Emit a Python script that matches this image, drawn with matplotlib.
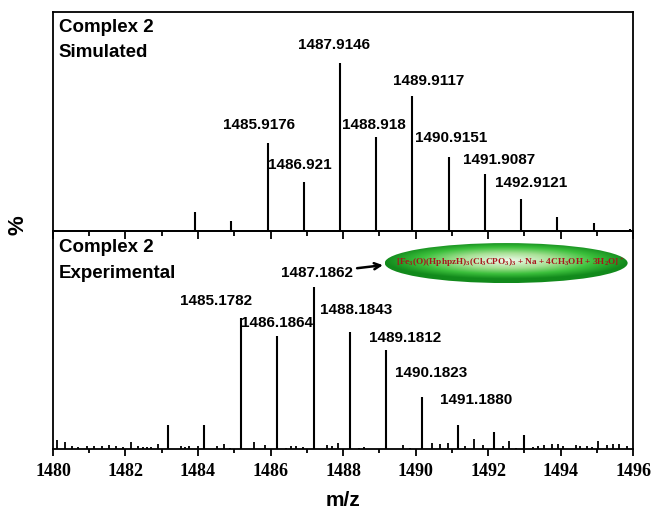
import numpy as np
import matplotlib
matplotlib.use("Agg")
import matplotlib.pyplot as plt
from matplotlib.patches import Ellipse
from matplotlib.colors import LinearSegmentedColormap

plt.rcParams['font.family'] = ['Liberation Sans', 'DejaVu Sans']
plt.rcParams['mathtext.default'] = 'regular'

# --- simulated isotope pattern (relative intensity, %)
sim_mz = [1481.92, 1482.92, 1483.92, 1484.92, 1485.9176, 1486.921, 1487.9146,
          1488.918, 1489.9117, 1490.9151, 1491.9087, 1492.9121, 1493.91, 1494.91, 1495.91]
sim_int = [0.6, 0.6, 11, 6, 52, 29, 100, 56, 80, 44, 34, 19, 8.5, 5, 1]
sim_labels = ['1485.9176', '1486.921', '1487.9146', '1488.918', '1489.9117',
              '1490.9151', '1491.9087', '1492.9121']

# --- experimental spectrum: main peaks
exp_mz = [1483.18, 1484.17, 1485.1782, 1486.1864, 1487.1862, 1488.1843, 1489.1812,
          1490.1823, 1491.18, 1492.17, 1492.99]
exp_int = [15, 15, 81, 70, 100, 72, 61, 32, 15, 10.3, 8.8]
exp_labels = ['1485.1782', '1486.1864', '1487.1862', '1488.1843', '1489.1812',
              '1490.1823', '1491.1880']

# --- experimental spectrum: noise peaks
noise_mz = [1480.10, 1480.33, 1480.53, 1480.70, 1480.93, 1481.14, 1481.34, 1481.55,
            1481.73, 1481.92, 1482.15, 1482.35, 1482.47, 1482.58, 1482.70, 1482.91,
            1483.53, 1483.64, 1483.76, 1484.01, 1484.52, 1484.72, 1484.88,
            1485.55, 1485.85, 1486.43, 1486.57, 1486.70, 1486.89, 1487.55, 1487.69,
            1487.85, 1488.44, 1488.59, 1489.65, 1489.85, 1490.45, 1490.68, 1490.90,
            1491.37, 1491.62, 1491.87, 1492.42, 1492.59, 1492.77, 1493.23, 1493.39,
            1493.55, 1493.76, 1493.94, 1494.06, 1494.42, 1494.54, 1494.72, 1494.86,
            1495.03, 1495.27, 1495.46, 1495.62, 1495.83]
noise_int = [5.3, 4.1, 2.0, 1.2, 1.6, 2.0, 1.6, 2.7, 2.0, 1.2, 4.1, 1.6, 1.2, 1.2, 1.2, 3.0,
             1.6, 1.2, 1.6, 2.0, 2.0, 3.3, 0.6,
             4.1, 2.7, 0.6, 1.6, 2.0, 1.2, 2.7, 2.0,
             3.7, 0.6, 1.2, 2.7, 0.8, 3.7, 3.3, 3.7,
             2.0, 6.4, 2.7, 1.6, 4.7, 0.6, 1.2, 1.6,
             2.7, 3.3, 3.3, 1.6, 2.7, 1.6, 1.6, 1.2,
             4.7, 2.7, 3.3, 3.3, 2.0]

formula = r'[Fe$_3$(O)(HphpzH)$_3$(Cl$_3$CPO$_3$)$_3$ + Na + 4CH$_3$OH + 3H$_2$O]$^+$'

# label positions (x, y in data units)
sim_pos = [(1485.67, 62.9), (1486.80, 39.2), (1487.75, 110.4), (1488.86, 62.9),
           (1490.36, 89.0), (1490.99, 55.2), (1492.30, 42.1), (1493.19, 28.5)]
exp_pos = [(1484.51, 91.4), (1486.19, 77.8), (1487.28, 108.7), (1488.36, 85.8),
           (1489.70, 68.5), (1490.44, 46.9), (1491.68, 30.3)]

fig = plt.figure(figsize=(6.54, 5.14), dpi=100)
ax1 = fig.add_axes([0.081, 0.5506, 0.887, 0.4261])
ax2 = fig.add_axes([0.081, 0.1265, 0.887, 0.4241])
ax2.patch.set_alpha(0)

lw = 1.5
ax1.vlines(sim_mz, 0, sim_int, color='black', lw=lw)
ax2.vlines(noise_mz, 0, noise_int, color='black', lw=1.3)
ax2.vlines(exp_mz, 0, exp_int, color='black', lw=lw)

for ax, ymax in ((ax1, 130), (ax2, 134.6)):
    ax.set_xlim(1480, 1496)
    ax.set_ylim(0, ymax)
    ax.set_yticks([])
    ax.set_xticks(np.arange(1480, 1497, 2))
    ax.set_xticks(np.arange(1480, 1497, 1), minor=True)
    for s in ax.spines.values():
        s.set_linewidth(1.3)

ax1.tick_params(axis='x', which='both', direction='out', labelbottom=False, width=1.3)
ax1.tick_params(axis='x', which='major', length=6)
ax1.tick_params(axis='x', which='minor', length=3.5)
ax2.tick_params(axis='x', which='both', direction='out', width=1.3)
ax2.tick_params(axis='x', which='major', length=5, pad=5)
ax2.tick_params(axis='x', which='minor', length=3)
for lab in ax2.get_xticklabels():
    lab.set_fontfamily('Liberation Serif')
    lab.set_fontweight('bold')
    lab.set_fontsize(13)

ax2.set_xlabel('m/z', fontsize=15, fontweight='bold', labelpad=8)
fig.text(0.028, 1 - 225 / 514, '%', rotation=90, ha='center', va='center',
         fontsize=16, fontweight='bold')

ax1.text(0.010, 0.931, 'Complex 2', transform=ax1.transAxes, fontsize=13.5,
         fontweight='bold', va='center')
ax1.text(0.010, 0.817, 'Simulated', transform=ax1.transAxes, fontsize=13.5,
         fontweight='bold', va='center')
ax2.text(0.010, 0.922, 'Complex 2', transform=ax2.transAxes, fontsize=13.5,
         fontweight='bold', va='center')
ax2.text(0.010, 0.807, 'Experimental', transform=ax2.transAxes, fontsize=13.5,
         fontweight='bold', va='center')

for lab, (x, y) in zip(sim_labels, sim_pos):
    ax1.text(x, y, lab, ha='center', va='center', fontsize=11, fontweight='bold')
for lab, (x, y) in zip(exp_labels, exp_pos):
    if lab == '1487.1862':
        ax2.annotate(lab, xy=(1489.10, 113.5), xytext=(x, y), ha='center', va='center',
                     fontsize=11, fontweight='bold',
                     arrowprops=dict(arrowstyle='->', color='black', lw=1.8,
                                     shrinkA=1, shrinkB=0))
    else:
        ax2.text(x, y, lab, ha='center', va='center', fontsize=11, fontweight='bold')

# green gradient ellipse with the formula
cx, cy, w, h = 1492.5, 114.8, 6.7, 24.7
ell = Ellipse((cx, cy), w, h, facecolor='none', edgecolor='none')
ax2.add_patch(ell)
u, v = np.meshgrid(np.linspace(-1, 1, 300), np.linspace(-1, 1, 80))
r = np.clip(np.sqrt(u ** 2 + ((v - 0.1) * 1.1) ** 2), 0, 1)
cmap = LinearSegmentedColormap.from_list(
    'glow', [(0, '#eefaea'), (0.4, '#a6e094'), (0.72, '#3cc03c'), (1, '#128a1c')])
im = ax2.imshow(r, extent=[cx - w / 2, cx + w / 2, cy - h / 2, cy + h / 2],
                origin='lower', cmap=cmap, aspect='auto', zorder=3)
im.set_clip_path(ell)
ax2.set_xlim(1480, 1496)
ax2.set_ylim(0, 134.6)
ax2.text(cx + 0.1, cy, formula, ha='center', va='center', fontsize=6.7,
         color='#a8141c', fontfamily='Liberation Serif', fontweight='bold', zorder=4)

fig.savefig('out.png', dpi=100)
